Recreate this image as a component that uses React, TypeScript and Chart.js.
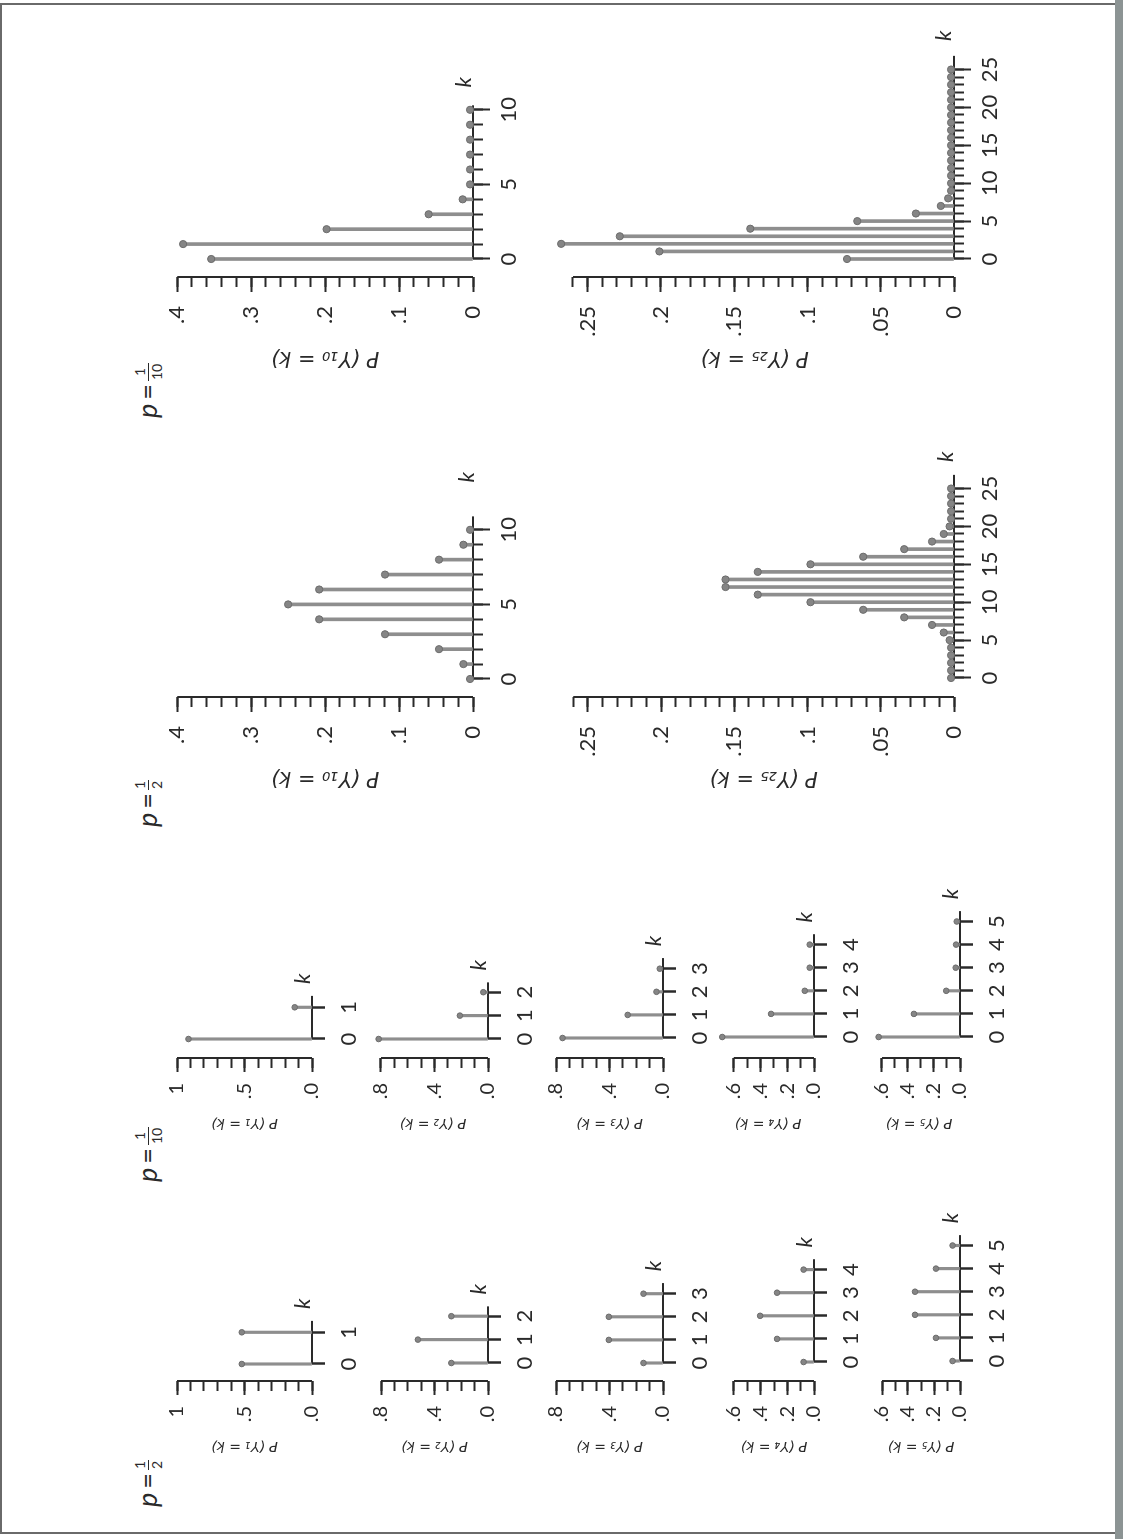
import React, { useEffect, useRef } from "react";
import { Chart, registerables } from "chart.js";

Chart.register(...registerables);

// ---------------- data: P(Y_n = k) ----------------
const K1 = [0, 1];
const K2 = [0, 1, 2];
const K3 = [0, 1, 2, 3];
const K4 = [0, 1, 2, 3, 4];
const K5 = [0, 1, 2, 3, 4, 5];
const K10 = [0, 1, 2, 3, 4, 5, 6, 7, 8, 9, 10];
const K25 = [0, 1, 2, 3, 4, 5, 6, 7, 8, 9, 10, 11, 12, 13, 14, 15, 16, 17, 18, 19, 20, 21, 22, 23, 24, 25];

// p = 1/2
const P50_N1 = [0.52, 0.52];
const P50_N2 = [0.274, 0.524, 0.274];
const P50_N3 = [0.146, 0.405, 0.405, 0.146];
const P50_N4 = [0.078, 0.277, 0.404, 0.277, 0.078];
const P50_N5 = [0.057, 0.185, 0.346, 0.346, 0.185, 0.057];
const P50_N10 = [0.004, 0.013, 0.046, 0.119, 0.208, 0.25, 0.208, 0.119, 0.046, 0.013, 0.004];
const P50_N25 = [
  0.002, 0.002, 0.002, 0.002, 0.002, 0.003, 0.007, 0.015, 0.034, 0.062, 0.098, 0.134, 0.156,
  0.156, 0.134, 0.098, 0.062, 0.034, 0.015, 0.007, 0.003, 0.002, 0.002, 0.002, 0.002, 0.002,
];

// p = 1/10
const P10_N1 = [0.915, 0.128];
const P10_N2 = [0.817, 0.21, 0.035];
const P10_N3 = [0.751, 0.264, 0.049, 0.024];
const P10_N4 = [0.686, 0.321, 0.069, 0.032, 0.032];
const P10_N5 = [0.625, 0.354, 0.106, 0.033, 0.03, 0.025];
const P10_N10 = [0.354, 0.392, 0.198, 0.06, 0.014, 0.004, 0.004, 0.004, 0.004, 0.004, 0.004];
const P10_N25 = [
  0.073, 0.201, 0.268, 0.228, 0.139, 0.066, 0.026, 0.009, 0.004, 0.002, 0.002, 0.002, 0.002,
  0.002, 0.002, 0.002, 0.002, 0.002, 0.002, 0.002, 0.002, 0.002, 0.002, 0.002, 0.002, 0.002,
];

// ---------------- tick labels ----------------
const K10_MAJOR = [0, 5, 10];
const K10_LABELS = ["0", "5", "10"];
const K25_MAJOR = [0, 5, 10, 15, 20, 25];
const K25_LABELS = ["0", "5", "10", "15", "20", "25"];

const PN10_MAJOR = [0, 0.1, 0.2, 0.3, 0.4];
const PN10_LABELS = ["0", ".1", ".2", ".3", ".4"];
const PN25_MAJOR = [0, 0.05, 0.1, 0.15, 0.2, 0.25];
const PN25_LABELS = ["0", ".05", ".1", ".15", ".2", ".25"];
const PN1_MAJOR = [0, 0.5, 1];
const PN1_LABELS = [".0", ".5", "1"];
const PN23_MAJOR = [0, 0.4, 0.8];
const PN23_LABELS = [".0", ".4", ".8"];
const PN45_MAJOR = [0, 0.2, 0.4, 0.6];
const PN45_LABELS = [".0", ".2", ".4", ".6"];

// ---------------- styling ----------------
const AXIS = "#2a2a2a";
const TEXT = "#2a2a2a";
const STEM = "#8e8e8e";
const DOT = "#858585";
const DOT_EDGE = "#6c6c6c";
const FONT = "Lato, 'Noto Sans', sans-serif";
const TITLE_FONT = "'DejaVu Sans', 'Noto Sans', sans-serif";

type Spec = {
  ks: number[];
  values: number[];
  kMajor: number[];
  kLabels: string[];
  pMax: number;
  pStep: number;
  pMajor: number[];
  pLabels: string[];
  title: string;
  big: boolean;
  // geometry in the un-rotated figure (1539 x 1123)
  axisX: number;
  k0: number;
  pxPerK: number;
  kEnd: number;
  top: number;
  bottom: number;
  kdx: number;
  kdy: number;
};

const near = (a: number, b: number) => Math.abs(a - b) < 1e-6;

const kLabelPlugin = {
  id: "kLabel",
  afterDraw(chart: any, _args: any, opts: any) {
    const { ctx } = chart;
    const x = chart.scales.x.getPixelForValue(opts.kEnd) + opts.dx;
    const y = chart.scales.y.getPixelForValue(0) - opts.dy;
    ctx.save();
    ctx.font = `italic ${opts.size}px ${FONT}`;
    ctx.fillStyle = TEXT;
    ctx.textAlign = "center";
    ctx.textBaseline = "middle";
    ctx.fillText("k", x, y);
    ctx.restore();
  },
};

function StemChart({ s }: { s: Spec }) {
  const ref = useRef<HTMLCanvasElement>(null);
  const Wy = s.big ? 110 : 85;
  const padT = 25;
  const padR = 45;
  const Hx = 60;
  const right = Math.round(s.k0 + s.kEnd * s.pxPerK);
  // leave room above the P axis for dots that overshoot its last tick
  const vMax = Math.max(...s.values);
  const pxPerP = (s.bottom - s.top) / s.pMax;
  const areaTop = vMax > s.pMax ? Math.round(s.bottom - (vMax + 0.004) * pxPerP) : s.top;
  const yMax = (s.bottom - areaTop) / pxPerP;
  const width = Wy + (right - s.axisX) + padR;
  const height = padT + (s.bottom - areaTop) + Hx;
  const left = s.axisX - Wy;
  const topPos = areaTop - padT;

  useEffect(() => {
    const xMin = (s.axisX - s.k0) / s.pxPerK;
    const xMax = (right - s.k0) / s.pxPerK;
    const pts = s.ks.map((k, i) => ({ x: k, y: s.values[i] }));
    const nMinor = Math.round(s.pMax / s.pStep);
    const pMinor: number[] = [];
    for (let i = 0; i <= nMinor; i++) pMinor.push(+(i * s.pStep).toFixed(4));

    const kMinorLen = s.big ? 10 : 13;
    const kMajorLen = s.big ? 17 : 13;
    const pMinorLen = 10;
    const pMajorLen = s.big ? 15 : 14;
    const kFont = 22;
    const pFont = s.big ? 22 : 20;
    const titleSize = s.big ? 21 : 14;
    const titleLH = titleSize * 1.2;
    const titleCenter = s.big ? 80 : 65;

    const chart = new Chart(ref.current!, {
      type: "scatter",
      data: {
        datasets: [
          {
            type: "scatter",
            data: pts,
            pointRadius: s.big ? 3.6 : 2.8,
            pointBackgroundColor: DOT,
            pointBorderColor: DOT_EDGE,
            pointBorderWidth: 1,
            clip: false,
            xAxisID: "x",
            yAxisID: "y",
          } as any,
          {
            type: "bar",
            data: pts,
            backgroundColor: STEM,
            barThickness: s.big ? 3 : 2.5,
            borderWidth: 0,
            clip: false,
            xAxisID: "x",
            yAxisID: "y",
          } as any,
          {
            // the k axis
            type: "line",
            data: [
              { x: 0, y: 0 },
              { x: s.kEnd, y: 0 },
            ],
            borderColor: AXIS,
            borderWidth: 2,
            pointRadius: 0,
            clip: false,
            fill: false,
            xAxisID: "x",
            yAxisID: "y",
          } as any,
          {
            // the P axis
            type: "line",
            data: [
              { x: xMin, y: 0 },
              { x: xMin, y: s.pMax },
            ],
            borderColor: AXIS,
            borderWidth: 2,
            pointRadius: 0,
            clip: false,
            fill: false,
            xAxisID: "x",
            yAxisID: "y",
          } as any,
        ],
      },
      options: {
        responsive: false,
        animation: false,
        events: [],
        layout: { padding: { left: 0, top: padT, right: padR, bottom: 0 } },
        plugins: {
          legend: { display: false },
          tooltip: { enabled: false },
          kLabel: { kEnd: s.kEnd, dx: s.kdx, dy: s.kdy, size: 22 },
        } as any,
        scales: {
          x: {
            type: "linear",
            position: "bottom",
            min: xMin,
            max: xMax,
            offset: false,
            grid: {
              display: true,
              drawOnChartArea: false,
              drawTicks: true,
              tickLength: kMinorLen,
              tickColor: AXIS,
              tickWidth: 2,
              offset: false,
            },
            border: { display: false },
            ticks: {
              autoSkip: false,
              maxRotation: 0,
              minRotation: 0,
              padding: s.big ? 13 : 11,
              color: TEXT,
              font: { family: FONT, size: kFont },
              callback: (v: any) => {
                const i = s.kMajor.findIndex((m) => near(m, Number(v)));
                return i >= 0 ? s.kLabels[i] : "";
              },
            },
            afterBuildTicks: (sc: any) => {
              sc.ticks = s.ks.map((k) => ({ value: k }));
            },
            afterFit: (sc: any) => {
              sc.height = Hx;
            },
          },
          xm: {
            type: "linear",
            axis: "x",
            position: { y: 0 },
            min: xMin,
            max: xMax,
            offset: false,
            grid: {
              display: true,
              drawOnChartArea: false,
              drawTicks: true,
              tickLength: kMajorLen,
              tickColor: AXIS,
              tickWidth: 2,
              offset: false,
            },
            border: { display: false },
            ticks: { display: false },
            afterBuildTicks: (sc: any) => {
              sc.ticks = s.kMajor.map((k) => ({ value: k }));
            },
          },
          y: {
            type: "linear",
            position: "left",
            min: 0,
            max: yMax,
            grid: {
              display: true,
              drawOnChartArea: false,
              drawTicks: true,
              tickLength: pMinorLen,
              tickColor: AXIS,
              tickWidth: 2,
            },
            border: { display: false },
            ticks: {
              autoSkip: false,
              padding: s.big ? 19 : 15,
              color: TEXT,
              font: { family: FONT, size: pFont },
              callback: (v: any) => {
                const i = s.pMajor.findIndex((m) => near(m, Number(v)));
                return i >= 0 ? s.pLabels[i] : "";
              },
            },
            title: {
              display: true,
              text: s.title,
              color: TEXT,
              font: { family: TITLE_FONT, size: titleSize, style: "italic" },
              padding: { top: Wy - titleCenter - titleLH / 2, bottom: 0 },
            },
            afterBuildTicks: (sc: any) => {
              sc.ticks = pMinor.map((p) => ({ value: p }));
            },
            afterFit: (sc: any) => {
              sc.width = Wy;
            },
          },
          ym: {
            type: "linear",
            axis: "y",
            position: { x: xMin },
            min: 0,
            max: yMax,
            grid: {
              display: true,
              drawOnChartArea: false,
              drawTicks: true,
              tickLength: pMajorLen,
              tickColor: AXIS,
              tickWidth: 2,
            },
            border: { display: false },
            ticks: { display: false },
            afterBuildTicks: (sc: any) => {
              sc.ticks = s.pMajor.map((p) => ({ value: p }));
            },
          },
        } as any,
      },
      plugins: [kLabelPlugin as any],
    });
    return () => chart.destroy();
  }, []);

  return (
    <canvas
      ref={ref}
      width={width}
      height={height}
      style={{ position: "absolute", left, top: topPos, width, height }}
    />
  );
}

function PLabel({ left, axisY, num, den }: { left: number; axisY: number; num: string; den: string }) {
  return (
    <div
      style={{
        position: "absolute",
        left,
        top: axisY - 18,
        height: 36,
        display: "flex",
        alignItems: "center",
        fontFamily: FONT,
        fontSize: 27,
        color: TEXT,
        whiteSpace: "nowrap",
      }}
    >
      <span style={{ fontStyle: "italic", marginTop: -4 }}>p</span>
      <span style={{ margin: "-4px 3px 0 4px" }}>=</span>
      <span
        style={{
          display: "inline-flex",
          flexDirection: "column",
          alignItems: "center",
          fontSize: 14,
          lineHeight: 1,
        }}
      >
        <span style={{ padding: "0 1px 1px" }}>{num}</span>
        <span style={{ borderTop: `1px solid ${TEXT}`, padding: "1px 1px 0" }}>{den}</span>
      </span>
    </div>
  );
}

// geometry of each panel in the un-rotated figure
const SMALL_ROWS = [
  { top: 175, bottom: 312, pxPerK: 31.7 },
  { top: 379, bottom: 488, pxPerK: 23.4 },
  { top: 554, bottom: 663, pxPerK: 23.1 },
  { top: 732, bottom: 814, pxPerK: 23.1 },
  { top: 880, bottom: 960, pxPerK: 23.1 },
];
const SMALL_KEND = [1.36, 2.42, 3.46, 4.45, 5.45];
const SMALL_P = [
  { pMax: 1, pStep: 0.1, pMajor: PN1_MAJOR, pLabels: PN1_LABELS },
  { pMax: 0.8, pStep: 0.1, pMajor: PN23_MAJOR, pLabels: PN23_LABELS },
  { pMax: 0.8, pStep: 0.1, pMajor: PN23_MAJOR, pLabels: PN23_LABELS },
  { pMax: 0.6, pStep: 0.1, pMajor: PN45_MAJOR, pLabels: PN45_LABELS },
  { pMax: 0.6, pStep: 0.1, pMajor: PN45_MAJOR, pLabels: PN45_LABELS },
];
const SMALL_KS = [K1, K2, K3, K4, K5];
const SMALL_TITLES = ["P (Y₁ = k)", "P (Y₂ = k)", "P (Y₃ = k)", "P (Y₄ = k)", "P (Y₅ = k)"];
const SMALL_P50 = [P50_N1, P50_N2, P50_N3, P50_N4, P50_N5];
const SMALL_P10 = [P10_N1, P10_N2, P10_N3, P10_N4, P10_N5];
const SMALL_P50_K0 = [175, 176, 176, 177, 178];
const SMALL_P10_K0 = [500, 500, 501, 502, 502];

function buildSpecs(): Spec[] {
  const specs: Spec[] = [];
  for (let i = 0; i < 5; i++) {
    const ks = SMALL_KS[i];
    const common = {
      ks,
      kMajor: ks,
      kLabels: ks.map(String),
      ...SMALL_P[i],
      title: SMALL_TITLES[i],
      big: false,
      pxPerK: SMALL_ROWS[i].pxPerK,
      kEnd: SMALL_KEND[i],
      top: SMALL_ROWS[i].top,
      bottom: SMALL_ROWS[i].bottom,
      kdx: 17,
      kdy: 9,
    };
    specs.push({ ...common, values: SMALL_P50[i], axisX: 158, k0: SMALL_P50_K0[i] });
    specs.push({ ...common, values: SMALL_P10[i], axisX: 481, k0: SMALL_P10_K0[i] });
  }
  const n10 = {
    ks: K10,
    kMajor: K10_MAJOR,
    kLabels: K10_LABELS,
    pMax: 0.4,
    pStep: 0.02,
    pMajor: PN10_MAJOR,
    pLabels: PN10_LABELS,
    title: "P (Y₁₀ = k)",
    big: true,
    pxPerK: 14.92,
    top: 170,
    bottom: 473,
  };
  const n25 = {
    ks: K25,
    kMajor: K25_MAJOR,
    kLabels: K25_LABELS,
    pMax: 0.26,
    pStep: 0.01,
    pMajor: PN25_MAJOR,
    pLabels: PN25_LABELS,
    title: "P (Y₂₅ = k)",
    big: true,
    pxPerK: 7.58,
    top: 566,
    bottom: 954,
    kEnd: 26.8,
  };
  specs.push({ ...n10, values: P50_N10, axisX: 842, k0: 860, kEnd: 10.9, kdx: 39, kdy: 6 });
  specs.push({ ...n10, values: P10_N10, axisX: 1262, k0: 1280, kEnd: 10.3, kdx: 23, kdy: 9 });
  specs.push({ ...n25, values: P50_N25, axisX: 842, k0: 861, kdx: 18, kdy: 8 });
  specs.push({ ...n25, values: P10_N25, axisX: 1262, k0: 1280, kdx: 20, kdy: 10 });
  return specs;
}

const SPECS = buildSpecs();

export default function App() {
  return (
    <div
      style={{
        position: "absolute",
        left: 0,
        top: 0,
        width: 1123,
        height: 1539,
        overflow: "hidden",
        background: "#ffffff",
      }}
    >
      {/* scanned page frame */}
      <div style={{ position: "absolute", left: 0, top: 3, width: 2, height: 1531, background: "#6a6a6a" }} />
      <div style={{ position: "absolute", left: 0, top: 3, width: 1116, height: 2, background: "#6a6a6a" }} />
      <div style={{ position: "absolute", left: 0, top: 1532, width: 1116, height: 2, background: "#6a6a6a" }} />
      <div style={{ position: "absolute", left: 1115, top: 0, width: 8, height: 1539, background: "#8c9494" }} />

      {/* the figure, printed sideways on the page */}
      <div
        style={{
          position: "absolute",
          left: 0,
          top: 0,
          width: 1539,
          height: 1123,
          transformOrigin: "0 0",
          transform: "translate(0px, 1539px) rotate(-90deg)",
        }}
      >
        <PLabel left={32} axisY={148} num="1" den="2" />
        <PLabel left={357} axisY={148} num="1" den="10" />
        <PLabel left={712} axisY={148} num="1" den="2" />
        <PLabel left={1121} axisY={148} num="1" den="10" />
        {SPECS.map((s, i) => (
          <StemChart key={i} s={s} />
        ))}
      </div>
    </div>
  );
}
